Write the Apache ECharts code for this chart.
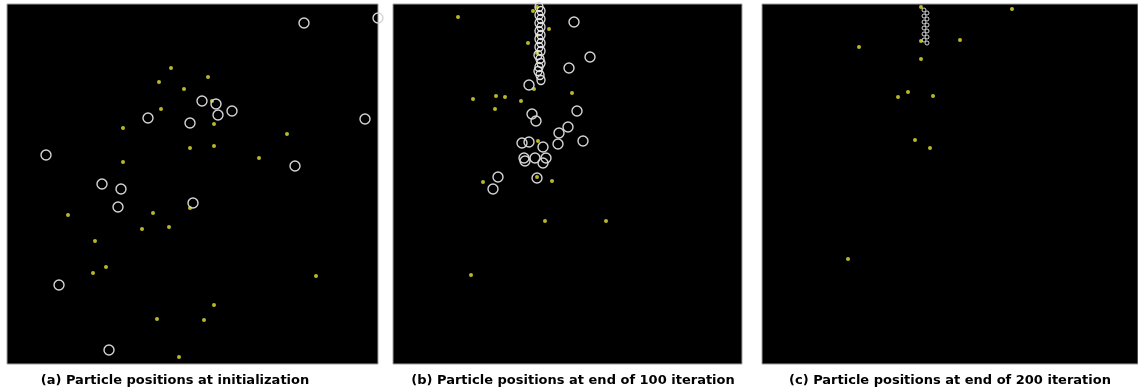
<!DOCTYPE html>
<html>
<head>
<meta charset="utf-8">
<script src="https://cdn.jsdelivr.net/npm/echarts@6/dist/echarts.min.js"></script>
<style>
html,body{margin:0;padding:0;background:#fff;}
#chart{width:1138px;height:392px;}
</style>
</head>
<body>
<div id="chart"></div>
<script>
// Panel captions
var captions = [
  "(a) Particle positions at initialization",
  "(b) Particle positions at end of 100 iteration",
  "(c) Particle positions at end of 200 iteration"
];

// Panel (a): particles (white circles) and targets (yellow dots), [x, y] from panel top-left
var circlesA = [[297,19],[371,14],[195,97],[209,100],[211,111],[225,107],[141,114],[183,119],[358,115],
  [39,151],[288,162],[95,180],[114,185],[186,199],[111,203],[52,281],[102,346]];
var dotsA = [[164,64],[201,73],[152,78],[177,85],[205,97],[154,105],[116,124],[207,120],[280,130],
  [183,144],[207,142],[252,154],[116,158],[61,211],[146,209],[183,204],[135,225],[162,223],[88,237],
  [99,263],[86,269],[309,272],[207,301],[150,315],[197,316],[172,353]];

// Panel (b): converged column of particles, other particles, targets
var columnB = [[146,3],[148,7],[146,11],[148,15],[146,19],[148,23],[146,27],[148,31],[146,35],[148,39],
  [146,43],[148,47],[145,51],[147,55],[148,59],[146,63],[145,67],[147,71],[148,76]];
var circlesB = [[136,81],
  [181,18],[197,53],[176,64],[184,107],[139,110],[143,117],[175,123],[166,129],[165,140],[190,137],
  [129,139],[136,138],[150,143],[131,154],[142,154],[153,154],[150,159],[132,157],[144,174],[105,173],[100,185]];
var dotsB = [[65,13],[140,7],[156,25],[135,39],[144,49],[141,85],[179,89],[80,95],[103,92],[112,93],
  [128,97],[102,105],[144,3],[144,31],[145,137],[90,178],[144,173],[159,177],[152,217],[213,217],[78,271]];

// Panel (c)
var circlesC = [[162,6],[165,9],[162,12],[165,15],[162,18],[165,21],[162,24],[165,27],[162,30],[165,33],[162,36],[165,39]];
var dotsC = [[159,3],[250,5],[97,43],[159,37],[198,36],[159,55],[146,88],[136,93],[171,92],[153,136],[168,144],[86,255]];

var panels = [
  {left:7, width:371, circles:circlesA, column:[], dots:dotsA, csize:10, center:175},
  {left:393, width:349, circles:circlesB, column:columnB, dots:dotsB, csize:10, center:573},
  {left:762, width:376, circles:circlesC, column:[], dots:dotsC, csize:4, center:950}
];
var panelTop = 4, panelH = 360;

var grids = [], xAxes = [], yAxes = [], series = [], graphics = [];
panels.forEach(function(p, i){
  grids.push({left:p.left, top:panelTop, width:p.width, height:panelH, show:true,
    backgroundColor:'#000', borderColor:'#a0a0a0', borderWidth:1});
  xAxes.push({gridIndex:i, type:'value', min:0, max:p.width, show:false});
  yAxes.push({gridIndex:i, type:'value', min:0, max:panelH, inverse:true, show:false});
  series.push({type:'scatter', xAxisIndex:i, yAxisIndex:i, data:p.dots, symbol:'circle', symbolSize:4,
    itemStyle:{color:'#b8b828', opacity:1}, silent:true, z:2});
  series.push({type:'scatter', xAxisIndex:i, yAxisIndex:i, data:p.circles, symbol:'circle', symbolSize:p.csize,
    itemStyle:{color:'transparent', borderColor:'#d4d4d4', borderWidth: i===2 ? 1 : 1.4, opacity:1}, silent:true, z:3});
  series.push({type:'scatter', xAxisIndex:i, yAxisIndex:i, data:p.column, symbol:'circle', symbolSize:[8,9],
    itemStyle:{color:'transparent', borderColor:'#e0e0e0', borderWidth:1.4, opacity:1}, silent:true, z:3});
  graphics.push({type:'text', x:p.center, y:374, z:10,
    style:{text:captions[i], font:'bold 13px "DejaVu Sans"', fill:'#000', textAlign:'center'}});
});

var chart = echarts.init(document.getElementById('chart'), null, {renderer:'canvas'});
chart.setOption({
  animation:false,
  backgroundColor:'#fff',
  grid:grids, xAxis:xAxes, yAxis:yAxes, series:series, graphic:graphics
});
</script>
</body>
</html>
